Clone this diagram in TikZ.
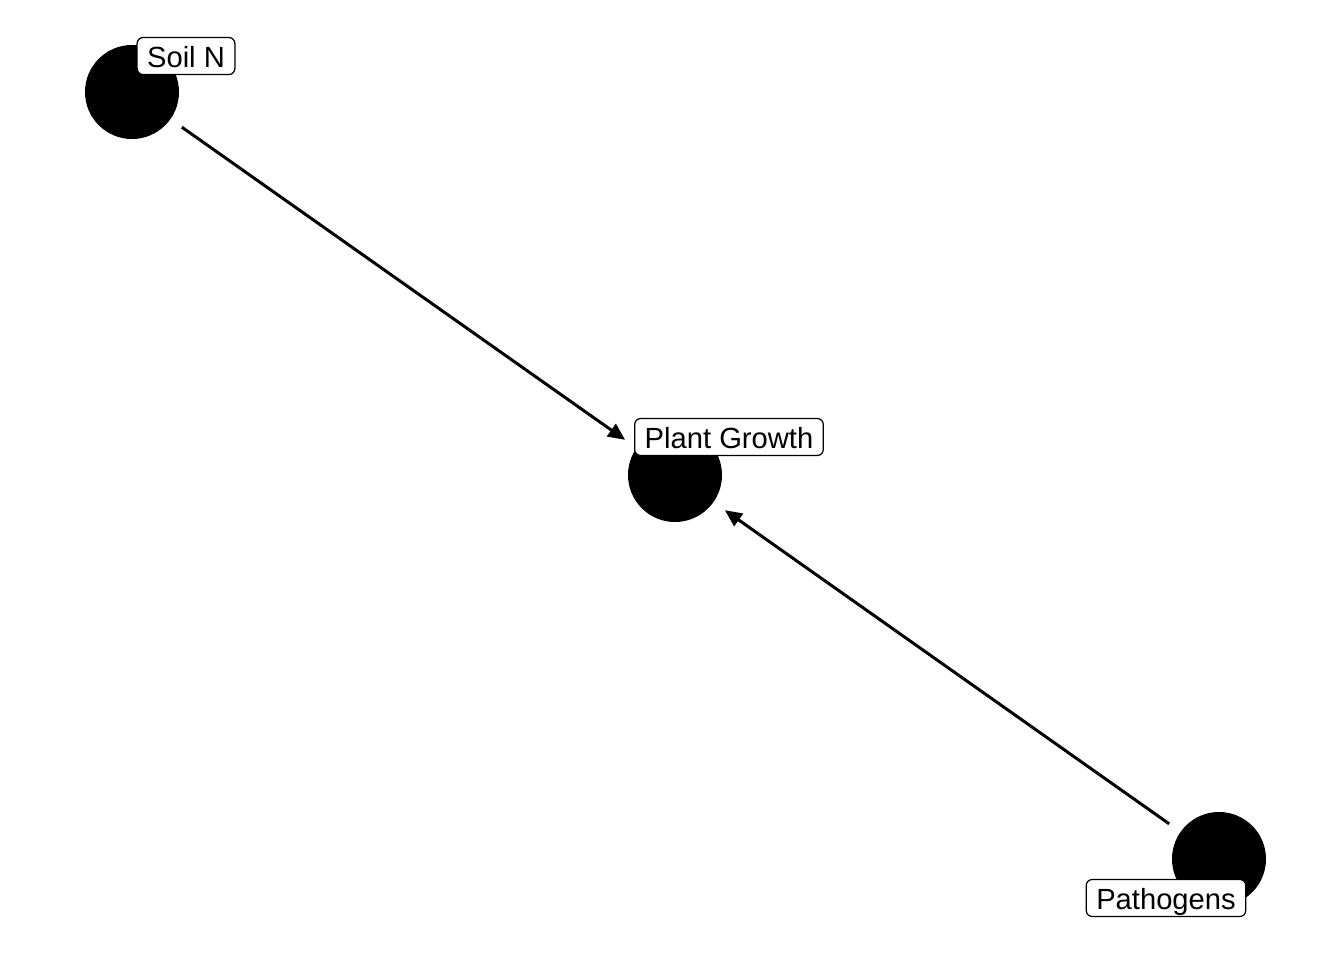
\documentclass[tikz,border=0pt]{standalone}
\usepackage{fontspec}
\setmainfont{Liberation Sans}
\usetikzlibrary{arrows.meta}

\tikzset{
  vert/.style={circle, fill=black, minimum size=9.4mm, inner sep=0pt, outer sep=1.4mm},
  lab/.style={draw=black, fill=white, rounded corners=0.6mm, line width=0.35pt,
    font=\fontsize{8.3}{10}\selectfont, text height=2.5mm, text depth=0.3mm,
    inner xsep=1mm, inner ysep=0.45mm},
  edge/.style={line width=0.85pt, -{Triangle[length=1.7mm,width=1.5mm]}}
}

\begin{document}
\begin{tikzpicture}
            % frame
            \useasboundingbox (0,0) rectangle (13.44,9.6);

            % Draw vertices
            \node[vert] (soil) at (1.32,8.68) {};
            \node[vert] (plant) at (6.75,4.85) {};
            \node[vert] (patho) at (12.19,1.01) {};

            % Draw edges
            \draw[edge] (soil) -- (plant);
            \draw[edge] (patho) -- (plant);

            % Draw labels
            \node[lab] (soiltxt) at (1.86,9.04) {Soil N};
            \node[lab] (planttxt) at (7.29,5.23) {Plant Growth};
            \node[lab] (pathotxt) at (11.66,0.62) {Pathogens};
\end{tikzpicture}
\end{document}
